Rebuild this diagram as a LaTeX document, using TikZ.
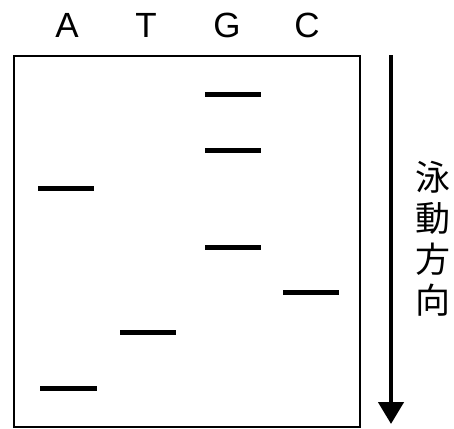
\documentclass[tikz,border=0pt]{standalone}
\usepackage{fontspec}
\setmainfont{Liberation Sans}
\newfontfamily\cjk{Noto Sans CJK JP}
\usetikzlibrary{arrows.meta}
\tikzset{
  lanelabel/.style={inner sep=0pt, font=\fontsize{35}{35}\selectfont},
  band/.style={line width=5pt},
  gel/.style={draw, line width=2pt},
  cjkchar/.style={inner sep=0pt, font=\cjk\fontsize{35}{35}\selectfont},
  flow/.style={line width=4.5pt, -{Triangle[width=25pt,length=22pt]}}
}
\begin{document}
\begin{tikzpicture}[x=1pt,y=-1pt]
\useasboundingbox (0,0) rectangle (454,428);
\node[gel, minimum width=346pt, minimum height=371pt, inner sep=0pt, anchor=north west] (box) at (13,55) {};
\node[lanelabel] (lA) at (67,25) {A};
\node[lanelabel] (lT) at (146,25) {T};
\node[lanelabel] (lG) at (227,25) {G};
\node[lanelabel] (lC) at (307,25) {C};
% bands
\coordinate (g1a) at (205,94);  \coordinate (g1b) at (261,94);
\coordinate (g2a) at (205,150); \coordinate (g2b) at (261,150);
\coordinate (a1a) at (38,188);  \coordinate (a1b) at (94,188);
\coordinate (g3a) at (205,247); \coordinate (g3b) at (261,247);
\coordinate (c1a) at (283,292); \coordinate (c1b) at (339,292);
\coordinate (t1a) at (120,332); \coordinate (t1b) at (176,332);
\coordinate (a2a) at (40,388);  \coordinate (a2b) at (97,388);
\draw[band] (g1a) -- (g1b);
\draw[band] (g2a) -- (g2b);
\draw[band] (a1a) -- (a1b);
\draw[band] (g3a) -- (g3b);
\draw[band] (c1a) -- (c1b);
\draw[band] (t1a) -- (t1b);
\draw[band] (a2a) -- (a2b);
% arrow
\coordinate (arrtop) at (391,55);
\coordinate (arrbot) at (391,424);
\draw[flow] (arrtop) -- (arrbot);
\node[cjkchar] (c1) at (433,177) {泳};
\node[cjkchar] (c2) at (433,218) {動};
\node[cjkchar] (c3) at (433,259) {方};
\node[cjkchar] (c4) at (433,300) {向};
\end{tikzpicture}
\end{document}
